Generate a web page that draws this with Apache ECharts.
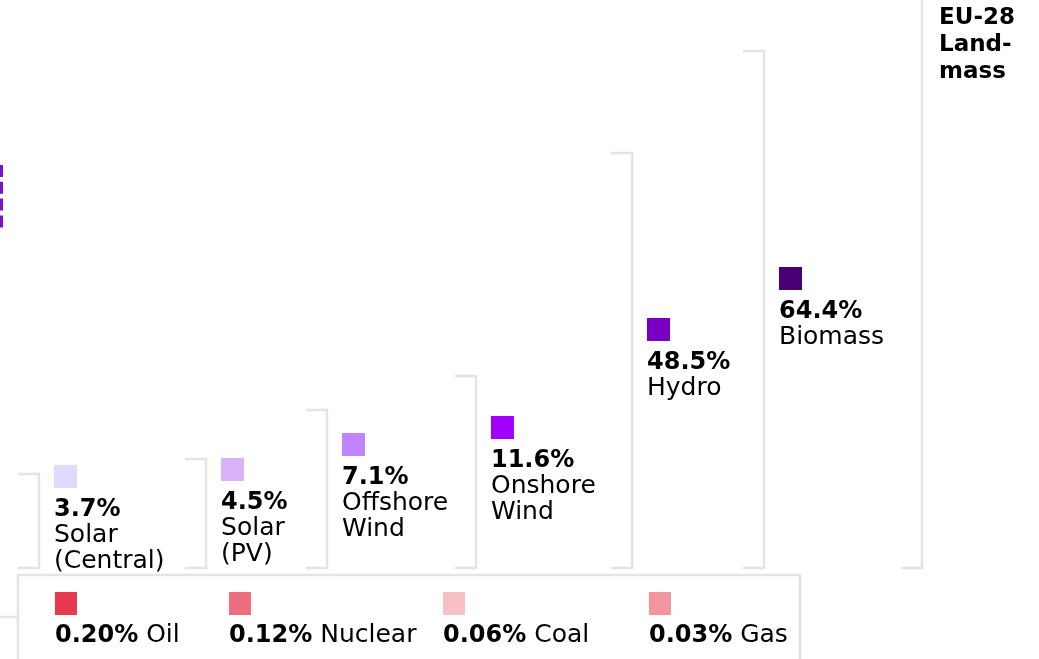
<!DOCTYPE html>
<html><head><meta charset="utf-8">
<script src="https://cdn.jsdelivr.net/npm/echarts@6/dist/echarts.min.js"></script>
<style>html,body{margin:0;padding:0;background:#fff}#c{width:1039px;height:659px}</style>
</head><body><div id="c"></div>
<script>
// ================= DATA =================
// Share of the EU-28 landmass needed, renewables
const renewNames  = ['Solar\n(Central)', 'Solar\n(PV)', 'Offshore\nWind', 'Onshore\nWind', 'Hydro', 'Biomass'];
const renewShares = [3.7, 4.5, 7.1, 11.6, 48.5, 64.4];
const totalName   = 'EU-28\nLand-\nmass';
// Share of the EU-28 landmass needed, conventional
const fossilNames  = ['Oil', 'Nuclear', 'Coal', 'Gas'];
const fossilShares = [0.20, 0.12, 0.06, 0.03];
// Nested frames (first one's label lies outside the view, last one is EU-28), in axis units
const frameRight = [3.75, 19.83, 31.47, 45.81, 60.83, 73.53, 88.74, 105.9];
const frameTop   = [16.55, 19.19, 27.82, 33.80, 73.06, 91.02, 114, 126];

// ================= STYLE / LAYOUT =================
const FONT = "'DejaVu Sans', sans-serif";
const FRAME_COLOR = '#e4e4e4';
const renewColors  = ['#e2dafc', '#dab2fb', '#c084fc', '#a100ff', '#7700c2', '#4a0075'];
const fossilColors = ['#e8394e', '#ee6d7e', '#f6c0c6', '#f195a0'];
const labelTop  = [18.13, 19.37, 23.77, 26.76, 44.01, 52.99, 98.42]; // y units, last = EU-28 text block
const fossilSlot = [5.29, 22.04, 42.64, 62.46];                     // x units
const fossilRowTop = -4.23;                                          // y units
const STUB = 21, LABEL_GAP = 15, SW = 23;
const BOLD = 24, REG = 25;

function line(x, baseline, text, size, weight) {
  return { type: 'text', style: {
    x: x, y: baseline - 0.346 * size, text: text, fill: '#000',
    fontSize: size, fontFamily: FONT, fontWeight: weight,
    align: 'left', verticalAlign: 'middle'
  }};
}

const chart = echarts.init(document.getElementById('c'), null, { renderer: 'canvas' });

const option = {
  animation: false,
  backgroundColor: '#fff',
  grid: { left: 0, right: 0, top: 0, bottom: 91, containLabel: false },
  xAxis: { type: 'value', min: 0, max: 100, show: false },
  yAxis: { type: 'value', min: 0, max: 100, show: false },
  graphic: [
    { type: 'line', z: 1, shape: { x1: 0, y1: 617, x2: 18, y2: 617 }, style: { stroke: FRAME_COLOR, lineWidth: 2.5 } },
    { type: 'rect', z: 1, shape: { x: 18, y: 575, width: 782, height: 120 }, style: { fill: '#fff', stroke: FRAME_COLOR, lineWidth: 2.5 } },
    { type: 'line', z: 1, shape: { x1: 1.5, y1: 165, x2: 1.5, y2: 228 }, style: { stroke: '#7a10c8', lineWidth: 3, lineDash: [12, 4.8] } }
  ],
  series: [
    {
      type: 'custom', name: 'frames', clip: false, z: 2,
      data: frameRight.map((r, i) => [r, frameTop[i]]),
      renderItem: function (params, api) {
        const p = api.coord([api.value(0), api.value(1)]);
        const b = api.coord([api.value(0), 0]);
        return { type: 'polyline', shape: { points: [[p[0] - STUB, p[1]], [p[0], p[1]], [b[0], b[1]], [b[0] - STUB, b[1]]] },
          style: { stroke: FRAME_COLOR, lineWidth: 2.5, fill: null } };
      }
    },
    {
      type: 'custom', name: 'renewables', clip: false, z: 3,
      data: renewShares.concat([100]).map((v, i) => [frameRight[i], labelTop[i], v]),
      renderItem: function (params, api) {
        const i = params.dataIndex;
        const p = api.coord([api.value(0), api.value(1)]);
        const x = p[0] + LABEL_GAP, T = p[1];
        const kids = [];
        if (i < renewShares.length) {
          kids.push({ type: 'rect', shape: { x: x, y: T, width: SW, height: SW }, style: { fill: renewColors[i] } });
          kids.push(line(x, T + 53, api.value(2).toFixed(1) + '%', BOLD, 'bold'));
          renewNames[i].split('\n').forEach((t, k) => kids.push(line(x, T + 79 + 26 * k, t, REG, 'normal')));
        } else {
          totalName.split('\n').forEach((t, k) => kids.push(line(x + 2, T + 17 + 27 * k, t, 23, 'bold')));
        }
        return { type: 'group', children: kids };
      }
    },
    {
      type: 'custom', name: 'conventional', clip: false, z: 3,
      data: fossilShares.map((v, i) => [fossilSlot[i], fossilRowTop, v]),
      renderItem: function (params, api) {
        const i = params.dataIndex;
        const p = api.coord([api.value(0), api.value(1)]);
        const x = p[0], T = p[1];
        return { type: 'group', children: [
          { type: 'rect', shape: { x: x, y: T, width: SW - 1, height: SW }, style: { fill: fossilColors[i] } },
          { type: 'text', style: {
            x: x, y: T + 52 - 0.346 * 24.5, align: 'left', verticalAlign: 'middle',
            text: '{b|' + api.value(2).toFixed(2) + '%}{r| ' + fossilNames[i] + '}',
            rich: {
              b: { fontSize: BOLD, fontWeight: 'bold', fontFamily: FONT, fill: '#000' },
              r: { fontSize: REG, fontWeight: 'normal', fontFamily: FONT, fill: '#000' }
            }
          }}
        ]};
      }
    }
  ]
};
chart.setOption(option);
</script>
</body></html>
